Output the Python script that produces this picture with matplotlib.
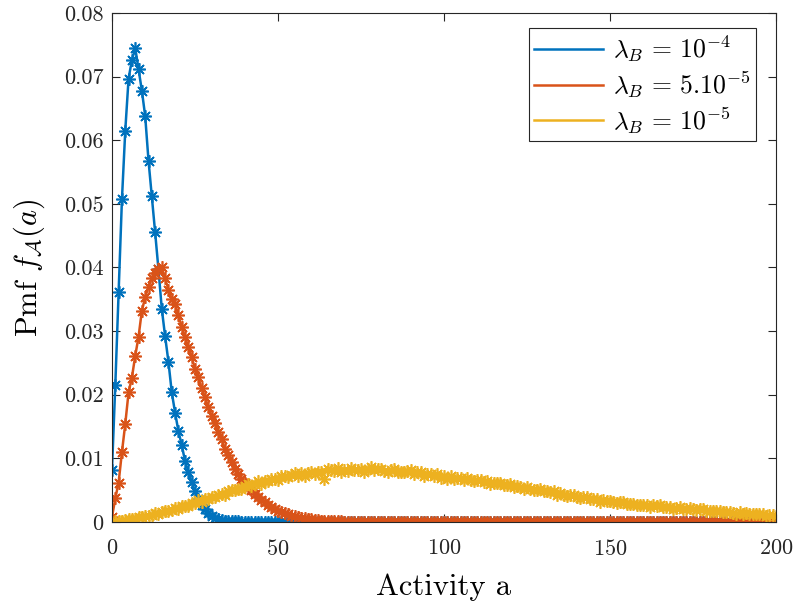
import numpy as np
import matplotlib
matplotlib.use('Agg')
import matplotlib.pyplot as plt
from matplotlib.ticker import FormatStrFormatter

plt.rcParams['font.family'] = 'serif'
plt.rcParams['font.serif'] = ['cmr10']
plt.rcParams['mathtext.fontset'] = 'cm'
plt.rcParams['axes.formatter.use_mathtext'] = True

# activity values 0..200
a = np.arange(0, 201)

# lambda_B = 1e-4 (zero after a=38)
blue = [0.0082, 0.0215, 0.0362, 0.0507, 0.0615, 0.0697, 0.0726, 0.0745, 0.0712, 0.0678,
        0.0638, 0.0568, 0.0512, 0.0455, 0.0397, 0.0335, 0.0292, 0.0252, 0.0204, 0.0172,
        0.0143, 0.0121, 0.0096, 0.0079, 0.0063, 0.0048, 0.0036, 0.0027, 0.0020, 0.0014,
        0.0010, 0.0007, 0.0005, 0.0003, 0.0002, 0.0002, 0.0001, 0.0001, 0.0001]
blue = blue + [0.0] * (201 - len(blue))

# lambda_B = 5e-5
red = [0.0008, 0.0037, 0.0062, 0.0110, 0.0154, 0.0204, 0.0227, 0.0261, 0.0291, 0.0332,
       0.0353, 0.0370, 0.0383, 0.0392, 0.0398, 0.0400, 0.0383, 0.0365, 0.0350, 0.0343,
       0.0325, 0.0307, 0.0290, 0.0275, 0.0260, 0.0240, 0.0228, 0.0210, 0.0196, 0.0180,
       0.0167, 0.0155, 0.0142, 0.0130, 0.0115, 0.0105, 0.0094, 0.0084, 0.0076, 0.0068,
       0.0061, 0.0055, 0.0050, 0.0044, 0.0039, 0.0035, 0.0031, 0.0027, 0.0024, 0.0021,
       0.0018, 0.0016, 0.0014, 0.0012, 0.0010, 0.0009, 0.0008, 0.0007, 0.0006, 0.0005,
       0.0004, 0.0003, 0.0003, 0.0002, 0.0002, 0.0001, 0.0001, 0.0001, 0.0001, 0.0001]
red = red + [0.0] * (201 - len(red))

# lambda_B = 1e-5, smooth curve
yellow = [0.0000, 0.0001, 0.0001, 0.0002, 0.0003, 0.0004, 0.0005, 0.0006, 0.0007, 0.0008,
          0.0009, 0.0010, 0.0011, 0.0013, 0.0014, 0.0015, 0.0016, 0.0018, 0.0019, 0.0021,
          0.0022, 0.0024, 0.0025, 0.0027, 0.0029, 0.0030, 0.0032, 0.0033, 0.0035, 0.0037,
          0.0038, 0.0040, 0.0042, 0.0043, 0.0045, 0.0047, 0.0049, 0.0051, 0.0052, 0.0054,
          0.0055, 0.0057, 0.0058, 0.0060, 0.0061, 0.0062, 0.0064, 0.0065, 0.0066, 0.0067,
          0.0068, 0.0070, 0.0071, 0.0072, 0.0072, 0.0073, 0.0074, 0.0075, 0.0076, 0.0076,
          0.0077, 0.0078, 0.0078, 0.0079, 0.0079, 0.0080, 0.0080, 0.0081, 0.0081, 0.0081,
          0.0081, 0.0082, 0.0082, 0.0082, 0.0082, 0.0082, 0.0082, 0.0082, 0.0082, 0.0082,
          0.0082, 0.0081, 0.0081, 0.0081, 0.0080, 0.0080, 0.0080, 0.0079, 0.0079, 0.0078,
          0.0078, 0.0077, 0.0077, 0.0076, 0.0075, 0.0075, 0.0074, 0.0073, 0.0073, 0.0072,
          0.0071, 0.0070, 0.0070, 0.0069, 0.0069, 0.0068, 0.0067, 0.0067, 0.0066, 0.0066,
          0.0065, 0.0064, 0.0064, 0.0063, 0.0062, 0.0061, 0.0060, 0.0060, 0.0059, 0.0058,
          0.0057, 0.0056, 0.0056, 0.0055, 0.0054, 0.0053, 0.0052, 0.0051, 0.0050, 0.0050,
          0.0049, 0.0048, 0.0047, 0.0046, 0.0045, 0.0044, 0.0043, 0.0042, 0.0041, 0.0041,
          0.0040, 0.0039, 0.0038, 0.0037, 0.0037, 0.0036, 0.0035, 0.0034, 0.0034, 0.0033,
          0.0032, 0.0031, 0.0031, 0.0030, 0.0030, 0.0029, 0.0028, 0.0028, 0.0027, 0.0027,
          0.0026, 0.0026, 0.0025, 0.0025, 0.0025, 0.0024, 0.0024, 0.0023, 0.0023, 0.0022,
          0.0022, 0.0022, 0.0021, 0.0021, 0.0021, 0.0020, 0.0020, 0.0019, 0.0019, 0.0018,
          0.0018, 0.0017, 0.0017, 0.0016, 0.0016, 0.0015, 0.0015, 0.0014, 0.0014, 0.0014,
          0.0013, 0.0013, 0.0013, 0.0012, 0.0012, 0.0012, 0.0011, 0.0011, 0.0011, 0.0010,
          0.0010]

# scatter of the simulated points around the yellow curve (units of 1e-4)
yellow_dev = [0, 0, 1, -1, 0, 1, 0, -1, 1, 0,
              1, -1, 0, 1, -1, 0, 2, -1, 0, 1,
              -1, 1, 0, -2, 1, 0, 2, -1, 1, -1,
              2, -1, 0, 1, -2, 1, 2, -1, 0, -2,
              1, 2, -1, 0, 3, -2, 1, -1, 2, 0,
              -2, 3, 1, -1, 2, 4, -1, 2, -3, 1,
              2, -2, 0, -1, -12, 3, 2, -1, 4, -2,
              1, -2, 3, 0, -1, 2, -3, 1, 4, -1,
              2, 3, -1, -2, 1, 4, -2, 0, -1, 2,
              3, -1, 1, 2, -2, 0, 1, -1, 2, -3,
              1, -2, 2, -1, 0, 1, -1, 2, 0, -2,
              1, 2, -1, 1, -2, 0, 1, 2, -1, 0,
              2, -1, 1, 0, -2, 2, 0, -1, 1, 2,
              -1, 1, 0, 2, -2, 1, 0, -1, 1, 2,
              0, -1, 1, 2, -1, 0, 1, -2, 1, 0,
              1, 0, -1, 1, 2, -1, 0, 1, 0, -1,
              1, 0, -1, 1, 0, 2, -1, 0, 1, -1,
              0, 1, -1, 0, 1, 0, -1, 1, 2, 0,
              -1, 1, 0, 1, -1, 0, 1, 0, -1, 1,
              0, 1, -1, 0, 1, 0, 1, -1, 0, 1,
              0]
yellow_pts = np.array(yellow) + np.array(yellow_dev) * 1e-4

labels = [r'$\lambda_B\,=\,10^{-4}$', r'$\lambda_B\,=\,5.10^{-5}$', r'$\lambda_B\,=\,10^{-5}$']
colors = ['#0072BD', '#D95319', '#EDB120']

fig = plt.figure(figsize=(7.97, 6.04), dpi=100)
ax = fig.add_axes([0.1405, 0.1358, 0.8332, 0.8427])

star = (8, 2, 0)
pts = [blue, red, yellow_pts]
curves = [blue, red, yellow]
for i in range(3):
    ax.plot(a, pts[i], linestyle='none', marker=star, markersize=9,
            markeredgewidth=1.2, color=colors[i])
    ax.plot(a, curves[i], '-', lw=1.8, color=colors[i], label=labels[i])

ax.set_xlim(0, 200)
ax.set_ylim(0, 0.08)
ax.set_xticks([0, 50, 100, 150, 200])
ax.set_yticks(np.arange(0, 0.081, 0.01))
ax.yaxis.set_major_formatter(FormatStrFormatter('%g'))
ax.tick_params(direction='in', top=True, right=True, length=6, width=0.8,
               labelsize=16, colors='#262626')
ax.tick_params(axis='x', pad=12)
ax.tick_params(axis='y', pad=6)
for s in ax.spines.values():
    s.set_linewidth(0.8)
    s.set_color('#262626')

ax.set_xlabel('Activity a', fontsize=22, labelpad=11)
ax.set_ylabel(r'Pmf $f_{\mathcal{A}}(a)$', fontsize=22, labelpad=12)

leg = ax.legend(loc='upper right', bbox_to_anchor=(0.97, 0.9705), fontsize=18.5,
                fancybox=False, framealpha=1, edgecolor='#262626',
                handlelength=2.7, handletextpad=0.4, borderaxespad=0,
                labelspacing=0.2, borderpad=0.2)
leg.get_frame().set_linewidth(0.8)

fig.savefig('out.png', dpi=100)
